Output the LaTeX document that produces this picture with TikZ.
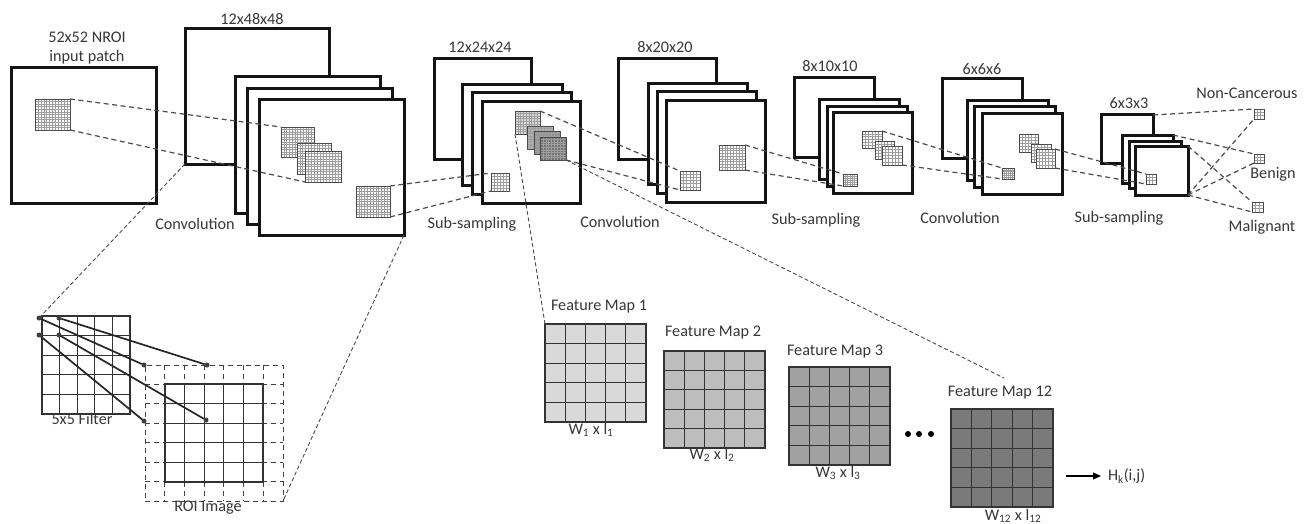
\documentclass[tikz,border=0pt]{standalone}
\usepackage{fontspec}
\setmainfont{Carlito}
\usetikzlibrary{arrows.meta}
\tikzset{
  sheet/.style={draw=black!92,fill=white,line width=3pt,inner sep=0pt,outer sep=0pt},
  plainbox/.style={inner sep=0pt,outer sep=0pt},
  patchbox/.style={draw=black!70,line width=.8pt,inner sep=0pt,outer sep=0pt},
  fineline/.style={draw=black!38,line width=.5pt},
  coarse/.style={draw=black!80,line width=1.2pt},
  dashline/.style={draw=black!70,line width=1.2pt,dash pattern=on 5pt off 3.5pt},
  longdash/.style={draw=black!70,line width=.9pt,dash pattern=on 4pt off 2.5pt},
  rdash/.style={draw=black!75,line width=1pt,dash pattern=on 5pt off 4pt},
  lbl/.style={text=black!78,font=\fontsize{16.2}{18}\selectfont,inner sep=0pt,outer sep=0pt},
  pinnode/.style={circle,fill=black!75,minimum size=5pt,inner sep=0pt,outer sep=0pt},
  wire/.style={draw=black!85,line width=1.7pt},
}
% name x1 y1 x2 y2
\newcommand{\sheetbox}[5]{\node[sheet,minimum width={(#4-#2)*1pt},minimum height={(#5-#3)*1pt}] (#1) at ({(#2+#4)/2},{(#3+#5)/2}) {};}
% name x1 y1 x2 y2 nodestyle linestyle n
\newcommand{\gridbox}[8]{%
  \node[#6,minimum width={(#4-#2)*1pt},minimum height={(#5-#3)*1pt}] (#1) at ({(#2+#4)/2},{(#3+#5)/2}) {};
  \pgfmathtruncatemacro{\lastline}{#8-1}%
  \foreach \i in {1,...,\lastline}{
    \draw[#7] ({#2+(#4-#2)*\i/#8},#3) -- ({#2+(#4-#2)*\i/#8},#5);
    \draw[#7] (#2,{#3+(#5-#3)*\i/#8}) -- (#4,{#3+(#5-#3)*\i/#8});
  }
  \node[#6,fill=none,minimum width={(#4-#2)*1pt},minimum height={(#5-#3)*1pt}] at ({(#2+#4)/2},{(#3+#5)/2}) {};
}
\newcommand{\largepatch}[5]{\gridbox{#1}{#2}{#3}{#4}{#5}{patchbox,fill=white}{fineline}{12}}
\newcommand{\finepatch}[6][white]{\gridbox{#2}{#3}{#4}{#5}{#6}{patchbox,fill=#1}{fineline}{9}}
\newcommand{\smallpatch}[6][white]{\gridbox{#2}{#3}{#4}{#5}{#6}{patchbox,fill=#1}{fineline}{6}}
\begin{document}
\begin{tikzpicture}[x=1pt,y=-1pt]
\useasboundingbox (0,0) rectangle (1308,524);
\fill[white] (0,0) rectangle (1308,524);

% input
\sheetbox{input}{11}{68}{156}{203}
% stack 1
\sheetbox{a0}{185}{29}{329}{164}
\sheetbox{a1}{235}{77}{380}{213}
\sheetbox{a2}{247}{89}{392}{224}
\sheetbox{a3}{259}{100}{404}{235}
% stack 2
\sheetbox{b0}{434}{59}{531}{159}
\sheetbox{b1}{462}{85}{562}{185}
\sheetbox{b2}{472}{93}{571}{194}
\sheetbox{b3}{482}{102}{580}{203}
% stack 3
\sheetbox{c0}{618}{59}{716}{159}
\sheetbox{c1}{648}{84}{747}{184}
\sheetbox{c2}{657}{92}{756}{193}
\sheetbox{c3}{666}{101}{765}{202}
% stack 4
\sheetbox{d0}{794}{78}{874}{157}
\sheetbox{d1}{819}{100}{899}{179}
\sheetbox{d2}{827}{107}{907}{186}
\sheetbox{d3}{833}{113}{912}{193}
% stack 5
\sheetbox{e0}{942}{79}{1022}{158}
\sheetbox{e1}{967}{101}{1048}{180}
\sheetbox{e2}{974}{107}{1055}{187}
\sheetbox{e3}{982}{114}{1062}{194}
% stack 6
\sheetbox{f0}{1101}{115}{1153}{163}
\sheetbox{f1}{1122}{135}{1173}{183}
\sheetbox{f2}{1129}{141}{1181}{188}
\sheetbox{f3}{1135}{146}{1188}{195}

% connectors between patches (drawn under the patches)
\coordinate (ipne) at (70,99);   \coordinate (ipse) at (70,130);
\coordinate (a4nw) at (281,127); \coordinate (a6sw) at (305,182);
\coordinate (a7ne) at (390,186); \coordinate (a7se) at (390,217);
\coordinate (b8nw) at (491,173); \coordinate (b8sw) at (491,191);
\coordinate (b4ne) at (540,111); \coordinate (b7se) at (566,160);
\coordinate (c4nw) at (680,171); \coordinate (c4sw) at (680,190);
\coordinate (c5ne) at (745,145); \coordinate (c5se) at (745,170);
\coordinate (d7nw) at (843,174); \coordinate (d7sw) at (843,186);
\coordinate (d4ne) at (882,131); \coordinate (d6se) at (902,165);
\coordinate (e7nw) at (1002,168);\coordinate (e7sw) at (1002,179);
\coordinate (e6ne) at (1055,149);\coordinate (e6se) at (1055,168);
\coordinate (f4nw) at (1146,174);\coordinate (f4sw) at (1146,184);
\draw[dashline] (ipne) -- (a4nw);
\draw[dashline] (ipse) -- (a6sw);
\draw[dashline] (a7ne) -- (b8nw);
\draw[dashline] (a7se) -- (b8sw);
\draw[dashline] (b4ne) -- (c4nw);
\draw[dashline] (b7se) -- (c4sw);
\draw[dashline] (c5ne) -- (d7nw);
\draw[dashline] (c5se) -- (d7sw);
\draw[dashline] (d4ne) -- (e7nw);
\draw[dashline] (d6se) -- (e7sw);
\draw[dashline] (e6ne) -- (f4nw);
\draw[dashline] (e6se) -- (f4sw);

% patches
\largepatch{ip}{35}{99}{70}{130}
\largepatch{a4}{281}{127}{314}{157}
\largepatch{a5}{297}{143}{331}{174}
\largepatch{a6}{305}{151}{341}{182}
\largepatch{a7}{356}{186}{390}{217}
\finepatch[black!15]{b4}{515}{111}{540}{134}
\finepatch[black!30]{b5}{527}{126}{553}{149}
\finepatch[black!42]{b6}{534}{131}{560}{154}
\finepatch[black!55]{b7}{540}{137}{566}{160}
\smallpatch{b8}{491}{173}{509}{191}
\smallpatch{c4}{680}{171}{700}{190}
\finepatch{c5}{719}{145}{745}{170}
\smallpatch{d4}{862}{131}{882}{148}
\smallpatch{d5}{875}{141}{894}{159}
\smallpatch{d6}{882}{146}{902}{165}
\smallpatch{d7}{843}{174}{857}{186}
\smallpatch{e4}{1019}{134}{1038}{152}
\smallpatch{e5}{1031}{144}{1051}{162}
\smallpatch{e6}{1036}{149}{1055}{168}
\smallpatch{e7}{1002}{168}{1014}{179}
\gridbox{f4}{1146}{174}{1156}{184}{patchbox,fill=white}{fineline}{3}
\gridbox{o1}{1254}{109}{1264}{119}{patchbox,fill=white}{fineline}{3}
\gridbox{o2}{1254}{154}{1264}{163}{patchbox,fill=white}{fineline}{3}
\gridbox{o3}{1252}{202}{1263}{212}{patchbox,fill=white}{fineline}{3}

\draw[dashline] (f0.north east) -- (o1.north west);
\draw[dashline] (f1.north east) -- (o2.north west);
\draw[dashline] (f3.north east) -- (o3.north west);
\draw[dashline] (f3.south east) -- (o1.south west);
\draw[dashline] (f3.south east) -- (o2.south west);
\draw[dashline] (f3.south east) -- (o3.south west);

% filter and ROI
\gridbox{roi}{145}{365}{283}{501}{plainbox,rdash}{rdash}{7}
\gridbox{roic}{165}{384}{263}{482}{plainbox,draw=black!80,line width=1.2pt}{coarse}{5}
\gridbox{filt}{42}{316}{130}{414}{plainbox,draw=black!80,line width=1.2pt}{coarse}{5}

% feature maps
\gridbox{m1}{545}{324}{646}{422}{plainbox,draw=black!80,line width=1.2pt,fill=black!15}{coarse}{5}
\gridbox{m2}{664}{351}{765}{448}{plainbox,draw=black!80,line width=1.2pt,fill=black!26}{coarse}{5}
\gridbox{m3}{789}{367}{890}{465}{plainbox,draw=black!80,line width=1.2pt,fill=black!37}{coarse}{5}
\gridbox{m12}{951}{409}{1053}{507}{plainbox,draw=black!80,line width=1.2pt,fill=black!52}{coarse}{5}

\coordinate (feat12) at (1004,378);
\coordinate (filtpin) at (39,318);
\draw[longdash] (b4.south west) -- (m1.north west);
\draw[longdash] (b7.south east) -- (feat12);
\draw[longdash] (a0.south west) -- (filtpin);
\draw[longdash] (a3.south east) -- (roi.south east);

% pins and wires
\node[pinnode] (p1) at (filtpin) {};
\node[pinnode] (p2) at (59,318) {};
\node[pinnode] (p3) at (39,335) {};
\node[pinnode] (p4) at (59,335) {};
\node[pinnode] (q1) at (144,365) {};
\node[pinnode] (q2) at (207,365) {};
\node[pinnode] (q3) at (144,421) {};
\node[pinnode] (q4) at (206,420) {};
\draw[wire] (p1) -- (q1);
\draw[wire] (p2) -- (q2);
\draw[wire] (p3) -- (q3);
\draw[wire] (p4) -- (q4);

% dots and arrow
\node[pinnode,fill=black,minimum size=6pt] (dot1) at (908,434) {};
\node[pinnode,fill=black,minimum size=6pt] (dot2) at (919,434) {};
\node[pinnode,fill=black,minimum size=6pt] (dot3) at (931,434) {};
\node[lbl,anchor=west] (hk) at (1108,476) {H\textsubscript{k}(i,j)};
\coordinate (arrowx) at (1066,0);
\draw[black,line width=1.1pt,shorten >=7pt,-{Triangle[length=8pt,width=7pt]}] (arrowx |- hk.west) -- (hk.west);

% labels
\node[lbl] (t1) at (87,37) {52x52 NROI};
\node[lbl] (t2) at (87,57) {input patch};
\node[lbl] (t3) at (252,19) {12x48x48};
\node[lbl] (t4) at (195,224) {Convolution};
\node[lbl] (t5) at (480,47) {12x24x24};
\node[lbl] (t6) at (472,224) {Sub-sampling};
\node[lbl] (t7) at (665,47) {8x20x20};
\node[lbl] (t8) at (620,222) {Convolution};
\node[lbl] (t9) at (830,66) {8x10x10};
\node[lbl] (t10) at (816,220) {Sub-sampling};
\node[lbl] (t11) at (982,69) {6x6x6};
\node[lbl] (t12) at (960,218) {Convolution};
\node[lbl] (t13) at (1129,103) {6x3x3};
\node[lbl] (t14) at (1119,218) {Sub-sampling};
\node[lbl] (t15) at (1247,93) {Non-Cancerous};
\node[lbl] (t16) at (1273,174) {Benign};
\node[lbl] (t17) at (1262,227) {Malignant};
\node[lbl] (t18) at (82,419) {5x5 Filter};
\node[lbl] (t19) at (208,508) {ROI Image};
\node[lbl] (t20) at (599,307) {Feature Map 1};
\node[lbl] (t21) at (713,333) {Feature Map 2};
\node[lbl] (t22) at (835,352) {Feature Map 3};
\node[lbl] (t23) at (1000,393) {Feature Map 12};
\node[lbl] (t24) at (591,430) {W\textsubscript{1} x l\textsubscript{1}};
\node[lbl] (t25) at (712,455) {W\textsubscript{2} x l\textsubscript{2}};
\node[lbl] (t26) at (838,473) {W\textsubscript{3} x l\textsubscript{3}};
\node[lbl] (t27) at (1013,516) {W\textsubscript{12} x l\textsubscript{12}};
\end{tikzpicture}
\end{document}
